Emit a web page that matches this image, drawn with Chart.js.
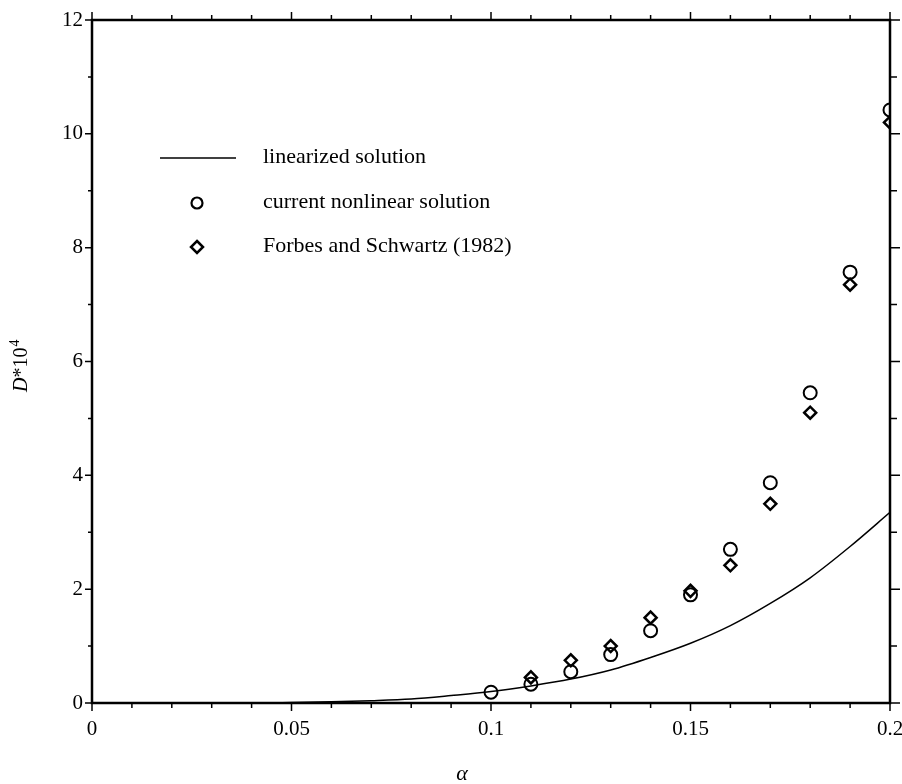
<!DOCTYPE html>
<html>
<head>
<meta charset="utf-8">
<script src="https://cdn.jsdelivr.net/npm/chart.js@4.4.0/dist/chart.umd.min.js"></script>
<style>
  html, body { margin: 0; padding: 0; background: #fff; }
  #wrap { width: 902px; height: 784px; }
</style>
</head>
<body>
<div id="wrap"><canvas id="chart" width="902" height="784"></canvas></div>
<script>
// alpha grid and values
var alphaLine = [0, 0.01, 0.02, 0.03, 0.04, 0.05, 0.06, 0.07, 0.08, 0.09, 0.1, 0.11, 0.12, 0.13, 0.14, 0.15, 0.16, 0.17, 0.18, 0.19, 0.2];
var linearized = [0, 0, 0, 0, 0, 0.01, 0.02, 0.04, 0.07, 0.13, 0.2, 0.3, 0.42, 0.58, 0.8, 1.05, 1.36, 1.75, 2.2, 2.75, 3.35];

var alphaCurrent = [0.1, 0.11, 0.12, 0.13, 0.14, 0.15, 0.16, 0.17, 0.18, 0.19, 0.2];
var current = [0.19, 0.33, 0.55, 0.85, 1.27, 1.9, 2.7, 3.87, 5.45, 7.57, 10.42];

var alphaForbes = [0.11, 0.12, 0.13, 0.14, 0.15, 0.16, 0.17, 0.18, 0.19, 0.2];
var forbes = [0.45, 0.75, 1.0, 1.5, 1.97, 2.42, 3.5, 5.1, 7.35, 10.2];

var xTicks = [0, 0.05, 0.1, 0.15, 0.2];
var yTicks = [0, 2, 4, 6, 8, 10, 12];

var FONT = "'Liberation Serif', 'DejaVu Serif', serif";

function pairs(xs, ys) {
    return xs.map(function (x, i) { return { x: x, y: ys[i] }; });
}

// frame, tick marks, axis titles and legend
var framePlugin = {
    id: "frame",
    afterDraw: function (chart) {
        var ctx = chart.ctx;
        var a = chart.chartArea;
        var xs = chart.scales.x, ys = chart.scales.y;
        ctx.save();
        ctx.strokeStyle = "#000";
        ctx.lineWidth = 2.5;
        ctx.strokeRect(a.left, a.top, a.right - a.left, a.bottom - a.top);

        ctx.lineWidth = 1.5;
        ctx.beginPath();
        // x ticks every 0.01, outward on bottom and top
        for (var i = 0; i <= 20; i++) {
            var px = xs.getPixelForValue(i / 100);
            var big = i % 5 === 0 ? 8 : 5;
            ctx.moveTo(px, a.bottom); ctx.lineTo(px, a.bottom + big);
            ctx.moveTo(px, a.top); ctx.lineTo(px, a.top - big);
        }
        // y ticks every 1, outward on left and right
        for (var j = 0; j <= 12; j++) {
            var py = ys.getPixelForValue(j);
            var len = j % 2 === 0 ? 7 : 4;
            ctx.moveTo(a.left, py); ctx.lineTo(a.left - len, py);
            ctx.moveTo(a.right, py); ctx.lineTo(a.right + len + 3, py);
        }
        ctx.stroke();

        ctx.fillStyle = "#000";
        // x title
        ctx.font = "italic 22px " + FONT;
        ctx.textAlign = "center";
        ctx.textBaseline = "middle";
        ctx.fillText("\u03b1", 462, 774);

        // y title D*10^4 rotated
        ctx.save();
        ctx.translate(27, 392);
        ctx.rotate(-Math.PI / 2);
        ctx.textAlign = "left";
        ctx.textBaseline = "alphabetic";
        ctx.font = "italic 20px " + FONT;
        var x0 = 0;
        ctx.fillText("D", x0, 0);
        x0 += ctx.measureText("D").width;
        ctx.font = "20px " + FONT;
        ctx.fillText("*10", x0, 0);
        x0 += ctx.measureText("*10").width;
        ctx.font = "14px " + FONT;
        ctx.fillText("4", x0 + 1, -8);
        ctx.restore();

        // legend
        ctx.font = "22px " + FONT;
        ctx.textAlign = "left";
        ctx.textBaseline = "middle";
        ctx.lineWidth = 1.5;
        ctx.beginPath();
        ctx.moveTo(160, 158); ctx.lineTo(236, 158);
        ctx.stroke();
        ctx.fillText("linearized solution", 263, 157);

        ctx.lineWidth = 2.2;
        ctx.beginPath();
        ctx.arc(197, 203, 5.5, 0, Math.PI * 2);
        ctx.stroke();
        ctx.fillText("current nonlinear solution", 263, 202);

        ctx.lineWidth = 2.5;
        ctx.beginPath();
        ctx.moveTo(197, 241); ctx.lineTo(203, 247); ctx.lineTo(197, 253); ctx.lineTo(191, 247);
        ctx.closePath();
        ctx.stroke();
        ctx.fillText("Forbes and Schwartz (1982)", 263, 246);
        ctx.restore();
    }
};

var ctx = document.getElementById("chart").getContext("2d");
var chart = new Chart(ctx, {
    type: "scatter",
    data: {
        datasets: [
            {
                label: "linearized solution",
                data: pairs(alphaLine, linearized),
                showLine: true,
                borderColor: "#000",
                borderWidth: 1.5,
                pointRadius: 0,
                cubicInterpolationMode: "monotone",
                fill: false,
            },
            {
                label: "current nonlinear solution",
                data: pairs(alphaCurrent, current),
                pointStyle: "circle",
                pointRadius: 6.5,
                borderColor: "#000",
                backgroundColor: "rgba(0,0,0,0)",
                borderWidth: 2,
            },
            {
                label: "Forbes and Schwartz (1982)",
                data: pairs(alphaForbes, forbes),
                pointStyle: "rectRot",
                pointRadius: 6,
                borderColor: "#000",
                backgroundColor: "rgba(0,0,0,0)",
                borderWidth: 2.5,
            },
        ],
    },
    options: {
        responsive: false,
        animation: false,
        layout: { padding: { top: 20, right: 12, left: 0, bottom: 0 } },
        plugins: { legend: { display: false }, tooltip: { enabled: false } },
        scales: {
            x: {
                type: "linear",
                min: 0,
                max: 0.2,
                grid: { display: false, drawTicks: false },
                border: { display: false },
                afterFit: function (s) {
                    s.height = 81;
                    s.paddingLeft = 0;
                    s.paddingRight = 0;
                },
                afterBuildTicks: function (s) {
                    s.ticks = xTicks.map(function (v) { return { value: v }; });
                },
                ticks: {
                    color: "#000",
                    padding: 14,
                    maxRotation: 0,
                    font: { family: FONT, size: 21 },
                    callback: function (v) { return String(+v.toFixed(2)); },
                },
            },
            y: {
                type: "linear",
                min: 0,
                max: 12,
                grid: { display: false, drawTicks: false },
                border: { display: false },
                afterFit: function (s) {
                    s.width = 92;
                    s.paddingTop = 0;
                    s.paddingBottom = 0;
                },
                afterBuildTicks: function (s) {
                    s.ticks = yTicks.map(function (v) { return { value: v }; });
                },
                ticks: {
                    color: "#000",
                    padding: 9,
                    font: { family: FONT, size: 21 },
                },
            },
        },
    },
    plugins: [framePlugin],
});
</script>
</body>
</html>
